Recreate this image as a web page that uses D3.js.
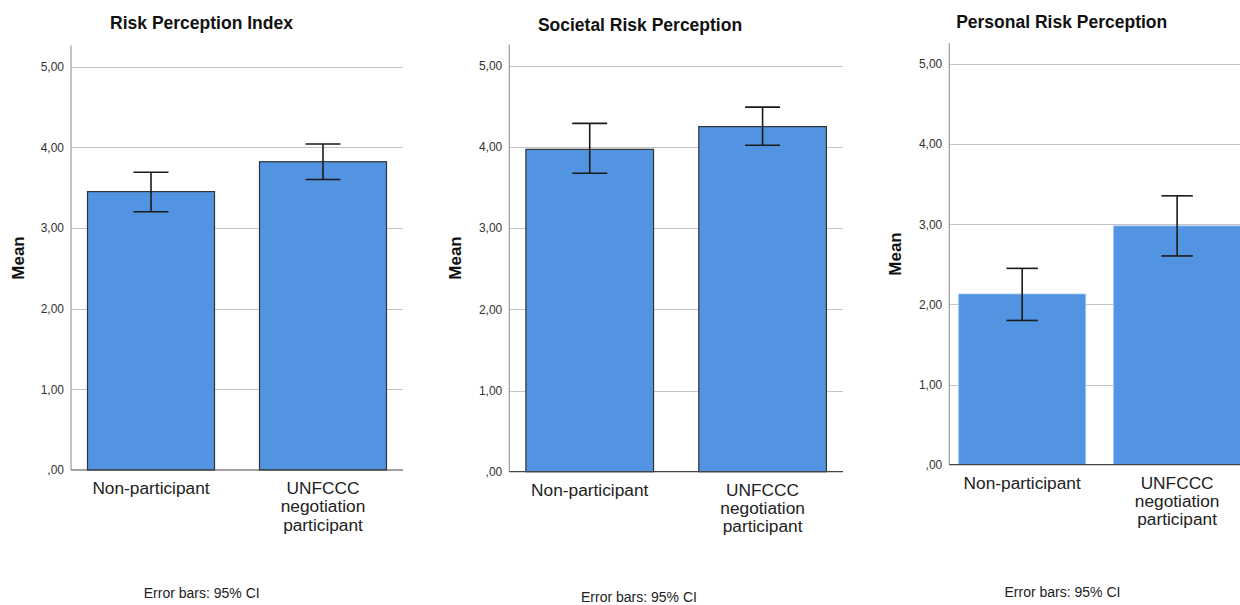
<!DOCTYPE html>
<html>
<head>
<meta charset="utf-8">
<script src="https://cdn.jsdelivr.net/npm/d3@7"></script>
<style>
  html, body { margin: 0; padding: 0; background: #fff; }
  svg { display: block; font-family: "Liberation Sans", Arial, sans-serif; }
</style>
</head>
<body>
<svg id="chart" width="1240" height="605"></svg>
<script>
// ---- data ----
const categories = ["Non-participant", "UNFCCC negotiation participant"];
const titles = ["Risk Perception Index", "Societal Risk Perception", "Personal Risk Perception"];
const yTicks = [0, 1, 2, 3, 4, 5];
const meansIndex    = [3.45, 3.82];
const lowerIndex    = [3.20, 3.60];
const upperIndex    = [3.69, 4.04];
const meansSocietal = [3.97, 4.25];
const lowerSocietal = [3.675, 4.02];
const upperSocietal = [4.29, 4.49];
const meansPersonal = [2.13, 2.98];
const lowerPersonal = [1.80, 2.605];
const upperPersonal = [2.45, 3.355];
const yAxisTitle = "Mean";
const footnote = "Error bars: 95% CI";

// ---- layout (positions & styles only) ----
const panels = [
  { title: titles[0], means: meansIndex, lower: lowerIndex, upper: upperIndex,
    x0: 71, x1: 403, y0: 470, y5: 66.5, pi: 0.2616, po: 0.096, cap: 17.5, stroke: true,
    titleX: 201.5, titleY: 29, noteX: 201.7, noteY: 598, meanX: 24, meanY: 258 },
  { title: titles[1], means: meansSocietal, lower: lowerSocietal, upper: upperSocietal,
    x0: 509.3, x1: 843, y0: 471.7, y5: 65.7, pi: 0.2616, po: 0.096, cap: 17.5, stroke: true,
    titleX: 640, titleY: 31, noteX: 639, noteY: 602, meanX: 461, meanY: 258 },
  { title: titles[2], means: meansPersonal, lower: lowerPersonal, upper: upperPersonal,
    x0: 949.3, x1: 1250, y0: 464.7, y5: 64, pi: 0.1806, po: 0.0606, cap: 15.7, stroke: false,
    titleX: 1061.7, titleY: 28.3, noteX: 1062.5, noteY: 597, meanX: 900.5, meanY: 254 }
];

const svg = d3.select("#chart");
const fmt = v => { const s = d3.format(".2f")(v).replace(".", ","); return s.startsWith("0,") ? s.slice(1) : s; };

panels.forEach(p => {
  const g = svg.append("g");
  const y = d3.scaleLinear().domain([0, 5]).range([p.y0, p.y5]);
  const yTop = y(5.26);
  const x = d3.scaleBand().domain(categories).range([p.x0, p.x1])
    .paddingInner(p.pi).paddingOuter(p.po);

  // gridlines
  g.selectAll("line.grid").data(yTicks.filter(t => t > 0)).join("line")
    .attr("x1", p.x0).attr("x2", p.x1)
    .attr("y1", d => Math.round(y(d)) + 0.5).attr("y2", d => Math.round(y(d)) + 0.5)
    .attr("stroke", "#c4c4c4").attr("stroke-width", 1);

  // y axis
  const yAxis = d3.axisLeft(y).tickValues(yTicks).tickFormat(fmt).tickSize(0).tickPadding(7);
  const ya = g.append("g").attr("transform", `translate(${p.x0},0)`).call(yAxis);
  ya.select(".domain").remove();
  ya.selectAll("text").attr("font-size", 12).attr("fill", "#333")
    .attr("font-family", "'Liberation Sans', Arial, sans-serif");
  g.append("line").attr("x1", p.x0).attr("x2", p.x0).attr("y1", yTop).attr("y2", p.y0)
    .attr("stroke", "#9a9a9a").attr("stroke-width", 1.2);

  // bars
  g.selectAll("rect.bar").data(categories).join("rect")
    .attr("x", d => x(d)).attr("width", x.bandwidth())
    .attr("y", (d, i) => y(p.means[i])).attr("height", (d, i) => y(0) - y(p.means[i]))
    .attr("fill", "#5294e2")
    .attr("stroke", p.stroke ? "#333" : "#9cc2ef").attr("stroke-width", p.stroke ? 1.2 : 0.8);

  // x axis line
  g.append("line").attr("x1", p.x0).attr("x2", p.x1).attr("y1", p.y0).attr("y2", p.y0)
    .attr("stroke", "#444").attr("stroke-width", 1.2);

  // error bars
  const eb = g.selectAll("g.eb").data(categories).join("g");
  eb.append("line")
    .attr("x1", d => x(d) + x.bandwidth() / 2).attr("x2", d => x(d) + x.bandwidth() / 2)
    .attr("y1", (d, i) => y(p.upper[i])).attr("y2", (d, i) => y(p.lower[i]));
  eb.append("line")
    .attr("x1", d => x(d) + x.bandwidth() / 2 - p.cap).attr("x2", d => x(d) + x.bandwidth() / 2 + p.cap)
    .attr("y1", (d, i) => y(p.upper[i])).attr("y2", (d, i) => y(p.upper[i]));
  eb.append("line")
    .attr("x1", d => x(d) + x.bandwidth() / 2 - p.cap).attr("x2", d => x(d) + x.bandwidth() / 2 + p.cap)
    .attr("y1", (d, i) => y(p.lower[i])).attr("y2", (d, i) => y(p.lower[i]));
  eb.selectAll("line").attr("stroke", "#1a1a1a").attr("stroke-width", 1.6);

  // category labels
  categories.forEach(c => {
    const words = c.split(" ");
    const t = g.append("text").attr("text-anchor", "middle").attr("font-size", 17.3).attr("fill", "#222");
    words.forEach((w, k) => {
      t.append("tspan").attr("x", x(c) + x.bandwidth() / 2).attr("y", p.y0 + 24 + k * 18.3).text(w);
    });
  });

  // title
  g.append("text").attr("x", p.titleX).attr("y", p.titleY).attr("text-anchor", "middle")
    .attr("font-size", 17.5).attr("font-weight", "bold").attr("fill", "#111").text(p.title);

  // y axis title
  g.append("text").attr("transform", `translate(${p.meanX},${p.meanY}) rotate(-90)`)
    .attr("text-anchor", "middle").attr("font-size", 17).attr("font-weight", "bold")
    .attr("fill", "#111").text(yAxisTitle);

  // footnote
  g.append("text").attr("x", p.noteX).attr("y", p.noteY).attr("text-anchor", "middle")
    .attr("font-size", 14).attr("fill", "#222").text(footnote);
});
</script>
</body>
</html>
